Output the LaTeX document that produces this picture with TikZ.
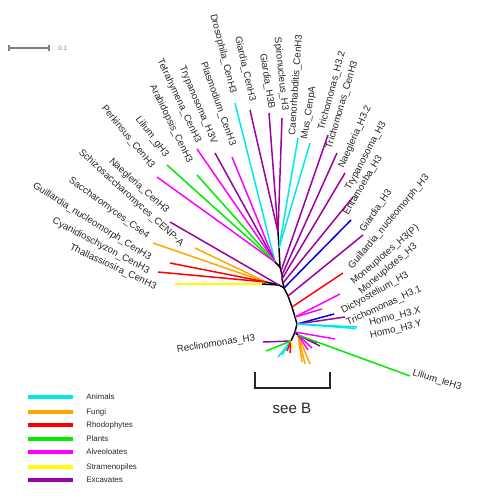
\documentclass[tikz,border=0pt]{standalone}
\usepackage{fontspec}
\setmainfont{Liberation Sans}
\definecolor{cAni}{RGB}{0,232,232}
\definecolor{cFun}{RGB}{255,165,0}
\definecolor{cRho}{RGB}{255,0,0}
\definecolor{cPla}{RGB}{0,235,0}
\definecolor{cAlv}{RGB}{255,0,255}
\definecolor{cStr}{RGB}{255,255,0}
\definecolor{cExc}{RGB}{155,0,160}
\definecolor{cBlu}{RGB}{0,0,235}
\begin{document}
\begin{tikzpicture}[x=0.02cm,y=-0.02cm,
  br/.style={line width=0.85pt},
  ani/.style={br,cAni}, fun/.style={br,cFun}, rho/.style={br,cRho},
  pla/.style={br,cPla}, alv/.style={br,cAlv}, stra/.style={br,cStr},
  exc/.style={br,cExc}, blu/.style={br,cBlu}, inner/.style={br,black},
  lab/.style={font=\fontsize{5.5}{6}\selectfont, inner sep=0pt, text=black!85},
  legline/.style={line width=2.8pt},
  legtext/.style={font=\fontsize{4.5}{5}\selectfont, inner sep=0pt, anchor=west, text=black!85}]
\useasboundingbox (0,0) rectangle (500,500);
% internal nodes
\coordinate (nE) at (278,232);
\coordinate (nE2) at (279,248);
\coordinate (nA) at (280,267);
\coordinate (nA0) at (275,262);
\coordinate (nR1) at (281,271);
\coordinate (nR2) at (282,275);
\coordinate (nR3) at (282,279);
\coordinate (nR4) at (283,283);
\coordinate (nB) at (284,288);
\coordinate (nC) at (279,285);
\coordinate (nC0) at (266,282);
\coordinate (nC1) at (262,284);
\coordinate (nGi) at (288,296);
\coordinate (nF) at (292,307);
\coordinate (nG) at (295,317);
\coordinate (nH) at (297,324);
\coordinate (nL) at (295,332);
\coordinate (nL1) at (291,341);
\coordinate (nL2) at (298,335);
% tips
\coordinate (tDros) at (235,103);
\coordinate (tGiC) at (250,110);
\coordinate (tGiB) at (269,113);
\coordinate (tSpi) at (282,118);
\coordinate (tCae) at (298,138);
\coordinate (tMus) at (310,143);
\coordinate (tPla) at (232,157);
\coordinate (tTrV) at (215,153);
\coordinate (tTet) at (197,149);
\coordinate (tAra) at (197,175);
\coordinate (tLil) at (167,165);
\coordinate (tPer) at (157,177);
\coordinate (tNaC) at (170,222);
\coordinate (tSch) at (195,248);
\coordinate (tSac) at (153,243);
\coordinate (tGuC) at (170,263);
\coordinate (tCya) at (158,272);
\coordinate (tTha) at (175,284);
\coordinate (tTr2) at (328,135);
\coordinate (tTrC) at (337,153);
\coordinate (tNa2) at (345,173);
\coordinate (tTry) at (353,197);
\coordinate (tEnt) at (351,220);
\coordinate (tGi3) at (363,235);
\coordinate (tGuN) at (343,273);
\coordinate (tMoP) at (340,294);
\coordinate (tMoH) at (322,309);
\coordinate (tDic) at (334,314);
\coordinate (tTr1) at (345,317);
\coordinate (tHoX) at (357,327);
\coordinate (tHoY) at (356,328.5);
\coordinate (tLle) at (410,376);
\coordinate (tRec) at (263,342);
% black internal branches
\draw[inner] (nE) -- (nE2) -- (nA) -- (nR1) -- (nR2) -- (nR3) -- (nR4) -- (nB) -- (nGi) -- (nF) -- (nG) -- (nH) -- (nL);
\draw[inner] (nA0) -- (nA);
\draw[inner] (nC0) -- (nC) -- (nB);
\draw[inner] (nC1) -- (nC);
\draw[inner] (nL) -- (nL1);
\draw[inner] (nL) -- (nL2);
% upper leaves
\draw[ani] (tDros) -- (nA0);
\draw[exc] (tGiC) -- (nE);
\draw[exc] (tGiB) -- (nE);
\draw[exc] (tSpi) -- (nE);
\draw[ani] (tCae) -- (nE2);
\draw[ani] (tMus) -- (nE2);
\draw[alv] (tPla) -- (nA0);
\draw[exc] (tTrV) -- (nA0);
\draw[alv] (tTet) -- (nA0);
\draw[pla] (tAra) -- (nA0);
\draw[pla] (tLil) -- (nA0);
\draw[alv] (tPer) -- (nA0);
% lower-left leaves
\draw[exc] (tNaC) -- (nC);
\draw[fun] (tSch) -- (nC0);
\draw[fun] (tSac) -- (nC0);
\draw[rho] (tGuC) -- (nC0);
\draw[rho] (tCya) -- (nC0);
\draw[stra] (tTha) -- (nC1);
% right leaves
\draw[exc] (tTr2) -- (nR1);
\draw[exc] (tTrC) -- (nR2);
\draw[exc] (tNa2) -- (nR3);
\draw[exc] (tTry) -- (nR4);
\draw[blu] (tEnt) -- (nB);
\draw[exc] (tGi3) -- (nGi);
\draw[rho] (tGuN) -- (nF);
\draw[alv] (tMoP) -- (nG);
\draw[alv] (tMoH) -- (nG);
\draw[blu] (tDic) -- (nH);
\draw[exc] (tTr1) -- (nH);
\draw[ani] (tHoX) -- (nH);
\draw[ani] (tHoY) -- (nH);
% lower cluster (see B)
\coordinate (b1) at (266,351);
\coordinate (b2) at (278,357);
\coordinate (b3) at (282,355);
\coordinate (b4) at (290,353);
\coordinate (b5) at (287,351);
\coordinate (b6) at (293,348);
\coordinate (b7) at (302,362);
\coordinate (b8) at (305,364);
\coordinate (b9) at (310,364);
\coordinate (b10) at (308,350);
\coordinate (b11) at (312,348);
\coordinate (b12) at (317,343);
\coordinate (b13) at (320,346);
\coordinate (b14) at (335,339);
\draw[exc] (tRec) -- (nL1);
\draw[pla] (b1) -- (nL1);
\draw[ani] (b2) -- (nL1);
\draw[ani] (b3) -- (nL1);
\draw[rho] (b4) -- (nL1);
\draw[rho] (b5) -- (nL1);
\draw[stra] (b6) -- (nL1);
\draw[fun] (b7) -- (nL2);
\draw[fun] (b8) -- (nL2);
\draw[fun] (b9) -- (nL2);
\draw[alv] (b10) -- (nL2);
\draw[alv] (b11) -- (nL2);
\draw[exc] (b12) -- (nL2);
\draw[exc] (b13) -- (nL2);
\draw[alv] (b14) -- (nL);
\draw[pla] (tLle) -- (nL2);
% labels
\node[lab,rotate=-75.6] (lDros) at (223,54) {Drosophila\_CenH3};
\node[lab,rotate=-77] (lGiC) at (245,69) {Giardia\_CenH3};
\node[lab,rotate=-70.5] (lPla) at (218,104) {Plasmodium\_CenH3};
\node[lab,rotate=-67] (lTrV) at (198,105) {Trypanosoma\_H3V};
\node[lab,rotate=-65] (lTet) at (179,101) {Tetrahymena\_CenH3};
\node[lab,rotate=-64] (lAra) at (171,124) {Arabidopsis\_CenH3};
\node[lab,rotate=-53] (lLil) at (152,137) {Lilium\_gH3};
\node[lab,rotate=-50.6] (lPer) at (128,137) {Perkinsus\_CenH3};
\node[lab,rotate=-42] (lNaC) at (139,186) {Naegleria\_CenH3};
\node[lab,rotate=-42.4] (lSch) at (131,198) {Schizosaccharomyces\_CENP-A};
\node[lab,rotate=-36] (lSac) at (109,208) {Saccharomyces\_Cse4};
\node[lab,rotate=-32] (lGuC) at (92,222) {Guillardia\_nucleomorph\_CenH3};
\node[lab,rotate=-28] (lCya) at (101,246) {Cyanidioschyzon\_CenH3};
\node[lab,rotate=-25] (lTha) at (113,267) {Thallassiosira\_CenH3};
\node[lab,rotate=-81] (lGiB) at (267,81) {Giardia\_H3B};
\node[lab,rotate=-84] (lSpi) at (281,74) {Spironucleus\_H3};
\node[lab,rotate=86] (lCae) at (296,85) {Caenorhabditis\_CenH3};
\node[lab,rotate=81] (lMus) at (309,113) {Mus\_CenpA};
\node[lab,rotate=75] (lTr2) at (332,91) {Trichomonas\_H3.2};
\node[lab,rotate=73.6] (lTrC) at (342,105) {Trichomonas\_CenH3};
\node[lab,rotate=66] (lNa2) at (355,137) {Naegleria\_H3.2};
\node[lab,rotate=62] (lTry) at (366,156) {Trypanosoma\_H3};
\node[lab,rotate=59.5] (lEnt) at (363,185) {Entamoeba\_H3};
\node[lab,rotate=56] (lGi3) at (376,211) {Giardia\_H3};
\node[lab,rotate=50] (lGuN) at (389,222) {Guillardia\_nucleomorph\_H3};
\node[lab,rotate=40.7] (lMoP) at (385,255) {Moneuplotes\_H3(P)};
\node[lab,rotate=40.5] (lMoH) at (388,269) {Moneuplotes\_H3};
\node[lab,rotate=29.3] (lDic) at (375,293) {Dictyostelium\_H3};
\node[lab,rotate=25] (lTr1) at (384,306) {Trichomonas\_H3.1};
\node[lab,rotate=14] (lHoX) at (395,317) {Homo\_H3.X};
\node[lab,rotate=13] (lHoY) at (396,330) {Homo\_H3.Y};
\node[lab,rotate=-17] (lLle) at (437,380) {Lilium\_leH3};
\node[lab,rotate=8.7] (lRec) at (216,344) {Reclinomonas\_H3};
% scale bar
\coordinate (s1) at (9,48);
\coordinate (s2) at (49,48);
\draw[gray, line width=0.6pt] (s1) -- (s2);
\draw[gray, line width=0.6pt] ([yshift=-1.6pt]s1) -- ([yshift=1.6pt]s1);
\draw[gray, line width=0.6pt] ([yshift=-1.6pt]s2) -- ([yshift=1.6pt]s2);
\node[font=\fontsize{3.6}{4}\selectfont, text=gray, anchor=west, inner sep=0pt] (sLab) at (58,48) {0.1};
% see B bracket
\coordinate (k1) at (255,372);
\coordinate (k2) at (255,388);
\coordinate (k3) at (330,388);
\coordinate (k4) at (330,372);
\draw[line width=1.7pt, black!85] (k1) -- (k2) -- (k3) -- (k4);
\node[font=\fontsize{8.6}{9}\selectfont, inner sep=0pt, text=black!85] (seeB) at (292,408) {see B};
% legend
\foreach \yy/\cc/\tt/\nn in {397/cAni/Animals/g1, 412/cFun/Fungi/g2, 425/cRho/Rhodophytes/g3, 439/cPla/Plants/g4, 452/cAlv/Alveoloates/g5, 467/cStr/Stramenopiles/g6, 480/cExc/Excavates/g7}{
  \coordinate (\nn a) at (28,\yy);
  \coordinate (\nn b) at (73,\yy);
  \draw[legline, \cc] (\nn a) -- (\nn b);
  \node[legtext] (\nn t) at (86,\yy) {\tt};
}
\end{tikzpicture}
\end{document}
